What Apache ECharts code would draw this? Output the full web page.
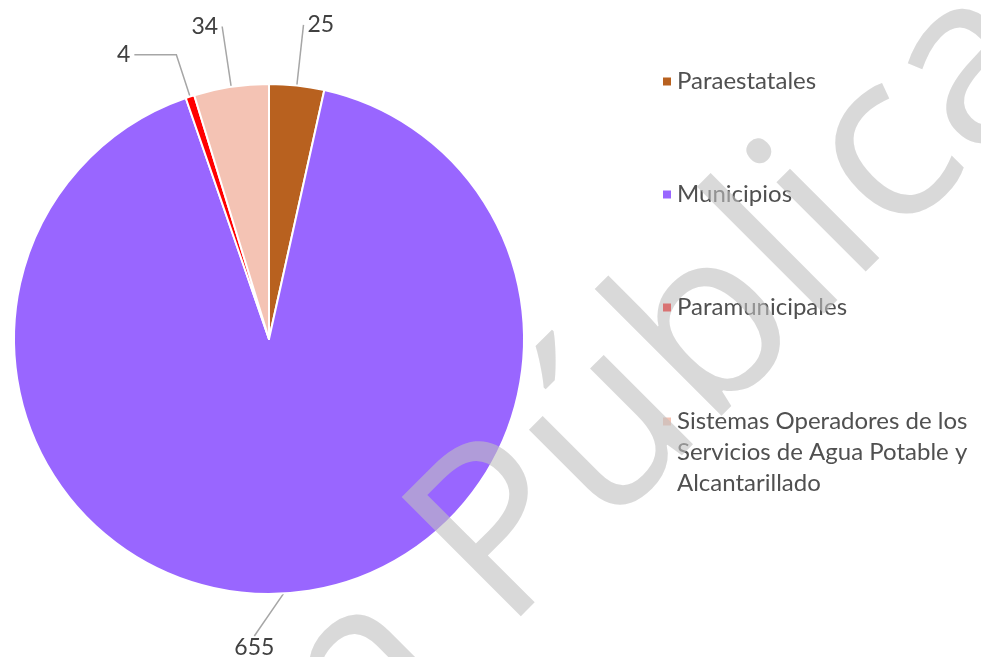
<!DOCTYPE html>
<html>
<head>
<meta charset="utf-8">
<script src="https://cdn.jsdelivr.net/npm/echarts@6/dist/echarts.min.js"></script>
<style>
  html, body { margin: 0; padding: 0; background: #fff; }
  #chart { width: 981px; height: 657px; }
</style>
</head>
<body>
<div id="chart"></div>
<script>
// datos
const categories = [
  "Paraestatales",
  "Municipios",
  "Paramunicipales",
  "Sistemas Operadores de los Servicios de Agua Potable y Alcantarillado"
];
const values = [25, 655, 4, 34];

const palette = ["#B8611F", "#9966FF", "#FF0000", "#F4C3B4"];
const longName = categories[3];

const chart = echarts.init(document.getElementById("chart"));

const pieData = categories.map((name, i) => {
  const item = { name: name, value: values[i] };
  if (i === 2) {
    // etiqueta "4" con tramo horizontal
    item.labelLine = { length: 44, length2: 42 };
  }
  if (i === 1) {
    item.labelLine = { length: 50, length2: 0 };
  }
  return item;
});

const legendText = {
  fontFamily: "Lato",
  fontSize: 24,
  lineHeight: 31,
  color: "#505050"
};

const watermark = {
  font: "236px 'Open Sans'",
  fill: "rgba(192,192,192,0.6)",
  verticalAlign: "middle"
};

const option = {
  animation: false,
  color: palette,
  legend: [
    {
      orient: "vertical",
      left: 661,
      top: 66,
      padding: 0,
      itemWidth: 10,
      itemHeight: 10,
      itemGap: 82,
      icon: "rect",
      selectedMode: false,
      textStyle: legendText,
      data: categories.slice(0, 3)
    },
    {
      // el texto largo en tres lineas, cuadro alineado a la primera
      orient: "vertical",
      left: 661,
      top: 344,
      padding: 0,
      itemWidth: 10,
      itemHeight: 10,
      icon: "rect",
      selectedMode: false,
      textStyle: legendText,
      data: [longName],
      formatter: () => "\n\nSistemas Operadores de los\nServicios de Agua Potable y\nAlcantarillado"
    }
  ],
  series: [
    {
      type: "pie",
      center: [269, 339],
      radius: 255,
      startAngle: 90,
      clockwise: true,
      avoidLabelOverlap: false,
      silent: true,
      itemStyle: { borderColor: "#fff", borderWidth: 2 },
      label: {
        show: true,
        position: "outside",
        formatter: "{c}",
        fontFamily: "Lato",
        fontSize: 23,
        color: "#404040",
        distanceToLabelLine: 4
      },
      labelLine: {
        show: true,
        length: 61,
        length2: 0,
        smooth: false,
        lineStyle: { color: "#A6A6A6", width: 1.5 }
      },
      labelLayout: function (params) {
        // "655" va a la izquierda de su linea
        if (params.dataIndex !== 1) return {};
        return {
          x: params.labelRect.x - 16,
          y: params.labelRect.y + params.labelRect.height / 2 + 4,
          align: "right",
          verticalAlign: "middle"
        };
      },
      data: pieData
    }
  ],
  graphic: [
    {
      type: "text",
      z: 100,
      x: 457,
      y: 585,
      rotation: 0.785,
      style: Object.assign({ text: "Pública", align: "left" }, watermark)
    },
    {
      type: "text",
      z: 100,
      x: 457,
      y: 585,
      rotation: 0.785,
      style: Object.assign({ text: "Versión ", align: "right" }, watermark)
    }
  ]
};

chart.setOption(option);
</script>
</body>
</html>
